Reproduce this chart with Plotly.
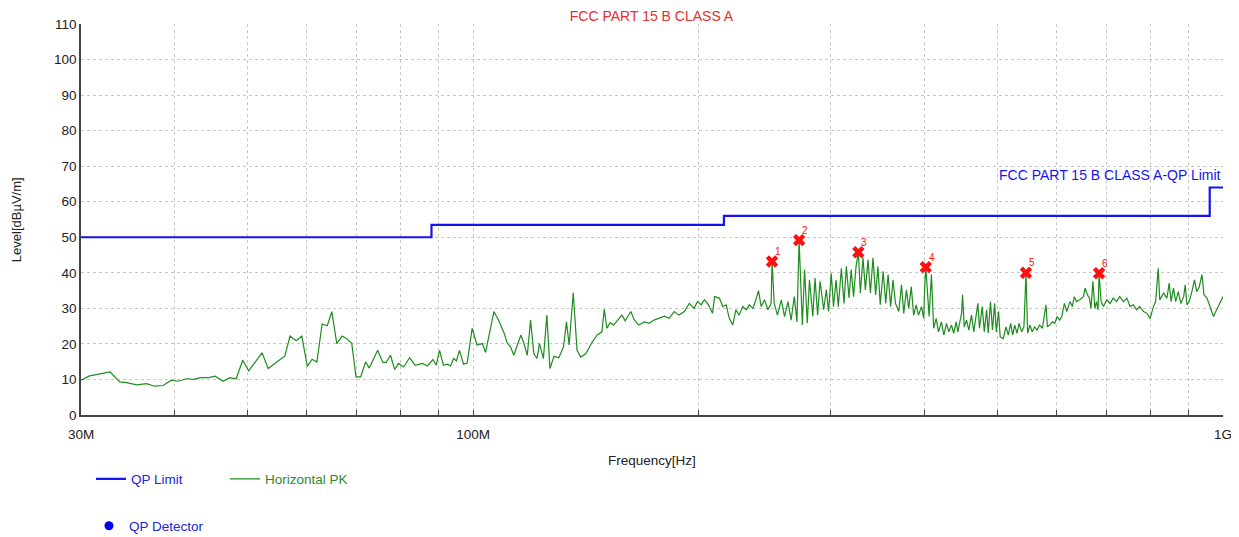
import math
import plotly.graph_objects as go

# ---- data ----
limit_freq_mhz = [30, 88, 216, 960, 1000]
limit_level = [50, 53.5, 56, 64, 64]

pk_freq_mhz = [
    30.0, 30.8, 32.8, 33.8, 34.5, 35.6, 36.7, 37.6, 38.6, 39.6, 40.4, 41.5, 42.4, 43.3, 44.4, 45.3,
    46.4, 47.4, 48.3, 49.3, 50.2, 52.3, 53.3, 54.7, 56.1, 57.0, 58.1, 59.1, 60.1, 61.0, 61.9, 62.9,
    63.9, 64.8, 65.8, 66.9, 67.9, 68.9, 69.8, 70.8, 71.9, 72.7, 74.6, 75.8, 76.6, 77.6, 78.6, 79.5,
    80.8, 82.3, 83.7, 85.6, 86.9, 88.4, 89.3, 90.2, 91.3, 92.4, 93.3, 94.2, 95.0, 95.9, 97.1, 98.2,
    99.7, 101.2, 102.9, 103.9, 106.6, 108.1, 110.0, 111.1, 112.2, 113.3, 115.8, 116.9, 118.1, 119.3,
    120.5, 121.7, 122.6, 124.1, 125.4, 126.6, 128.2, 130.1, 132.0, 133.2, 134.3, 136.0, 137.6, 139.2,
    141.4, 144.2, 146.4, 148.5, 149.6, 150.8, 152.3, 153.9, 155.7, 157.9, 159.5, 162.3, 163.9, 166.3,
    169.2, 171.7, 174.3, 176.9, 179.9, 182.6, 185.4, 188.1, 191.3, 194.2, 197.1, 199.1, 201.4, 203.4,
    205.5, 208.6, 209.9, 213.0, 215.3, 217.5, 219.6, 221.9, 224.1, 226.3, 228.9, 231.3, 233.6, 236.0,
    238.3, 240.2, 242.2, 244.7, 247.2, 249.7, 250.4, 252.1, 254.6, 257.6, 260.2, 262.9, 265.5, 268.1,
    270.3, 272.1, 274.8, 276.7, 279.0, 280.9, 283.8, 285.7, 288.0, 290.2, 293.4, 295.8, 297.9, 300.3,
    302.4, 304.8, 306.9, 309.8, 312.3, 314.6, 317.2, 319.3, 321.6, 324.1, 326.4, 328.4, 331.1, 333.5,
    336.2, 338.7, 341.4, 344.2, 346.6, 349.1, 352.2, 355.0, 357.6, 360.4, 363.0, 365.8, 369.5, 372.6,
    375.2, 378.3, 381.0, 384.0, 386.8, 389.8, 392.6, 396.2, 399.0, 400.2, 401.5, 403.5, 405.6, 408.5,
    411.3, 414.5, 417.5, 421.3, 424.3, 427.9, 430.9, 434.4, 437.4, 440.8, 443.0, 448.1, 449.5, 451.8,
    455.0, 458.2, 462.0, 465.2, 468.8, 471.1, 473.4, 477.5, 480.5, 483.9, 486.3, 489.7, 492.7, 496.0,
    498.5, 502.0, 504.5, 509.4, 513.5, 517.2, 521.0, 524.1, 527.5, 531.3, 534.5, 538.9, 542.7, 546.1,
    548.9, 552.7, 556.7, 561.0, 565.0, 569.3, 574.3, 577.8, 580.7, 583.2, 587.8, 592.1, 596.6, 600.9,
    605.5, 609.5, 614.5, 618.9, 625.1, 629.6, 633.4, 637.6, 643.9, 651.5, 654.7, 659.5, 663.5, 666.7,
    670.8, 674.7, 678.1, 681.4, 683.5, 687.8, 692.8, 699.9, 706.9, 714.1, 721.1, 728.2, 736.8, 744.4,
    751.8, 759.4, 766.9, 774.4, 783.6, 791.6, 799.5, 807.6, 813.1, 819.6, 823.5, 833.3, 841.8, 847.7,
    852.8, 858.9, 864.7, 871.6, 878.3, 886.2, 890.5, 895.2, 901.5, 908.9, 916.2, 922.3, 929.7, 937.5,
    943.3, 952.0, 961.5, 971.3, 980.8, 990.5, 1000.0,
]
pk_level = [
    9.8, 11.0, 12.1, 9.3, 9.1, 8.5, 8.8, 8.1, 8.3, 9.8, 9.5, 10.2, 10.0, 10.5, 10.5, 10.9,
    9.5, 10.5, 10.2, 15.4, 12.4, 17.5, 13.1, 14.9, 16.6, 22.2, 20.9, 22.2, 13.7, 15.7, 14.9, 25.6,
    25.1, 29.1, 20.1, 22.2, 21.4, 20.1, 10.7, 10.7, 14.9, 13.2, 18.2, 14.8, 14.8, 16.8, 12.8, 14.5,
    13.5, 16.1, 14.0, 14.5, 13.8, 15.6, 14.0, 18.2, 14.0, 14.3, 13.8, 15.9, 15.2, 18.2, 14.3, 14.6,
    24.4, 19.7, 20.1, 17.6, 29.1, 26.7, 23.0, 20.1, 19.2, 16.8, 22.5, 20.1, 16.8, 26.7,
    17.3, 15.9, 20.1, 15.9, 28.1, 13.1, 16.5, 16.1, 19.2, 26.2, 19.7, 34.4, 18.2, 16.3,
    17.3, 20.6, 22.5, 23.4, 29.7, 24.4, 26.0, 25.3, 26.7, 28.1, 26.5, 29.1, 26.9, 25.3,
    26.2, 25.8, 26.7, 27.2, 27.8, 27.2, 29.1, 28.1, 29.1, 31.4, 30.0, 31.9, 31.0, 32.4,
    31.4, 28.6, 33.3, 32.9, 30.5, 31.0, 27.2, 25.3, 29.6, 28.1, 30.5, 29.6, 31.0, 30.0,
    32.4, 35.0, 30.5, 32.4, 29.6, 31.4, 43.2, 31.4, 28.1, 32.4, 27.7, 31.9, 26.7, 33.3,
    26.2, 49.2, 25.3, 40.9, 25.8, 38.0, 27.7, 38.5, 28.1, 37.6, 29.6, 35.2, 29.1, 39.9,
    30.5, 38.0, 30.5, 41.3, 31.4, 41.8, 32.9, 40.9, 33.3, 41.8, 45.8, 34.3, 44.2, 35.2,
    43.7, 34.3, 44.2, 33.8, 41.8, 31.0, 40.4, 31.4, 39.5, 30.5, 38.0, 31.4, 29.1, 36.6,
    28.6, 35.2, 30.0, 36.1, 28.1, 31.0, 28.1, 30.5, 27.2, 36.6, 41.6, 34.7, 27.7, 39.5,
    24.4, 27.2, 23.4, 26.2, 22.5, 25.8, 23.4, 25.3, 23.0, 26.2, 23.4, 28.6, 33.8, 24.8,
    26.7, 23.9, 28.1, 23.4, 28.6, 31.4, 24.4, 30.5, 23.4, 29.6, 23.0, 31.9, 23.9, 31.4,
    23.4, 29.1, 22.0, 21.5, 24.8, 22.5, 25.8, 22.5, 25.3, 23.0, 25.8, 23.4, 24.8, 40.0,
    23.0, 25.3, 23.4, 24.8, 23.9, 25.3, 24.4, 28.1, 31.0, 24.8, 25.3, 26.2, 25.8, 27.7,
    26.7, 27.7, 31.4, 29.1, 31.9, 30.5, 33.3, 31.9, 32.4, 33.3, 35.7, 33.8, 32.9, 30.0,
    37.6, 30.0, 31.9, 29.6, 39.9, 31.9, 30.5, 32.4, 31.4, 32.9, 31.9, 33.3, 31.9, 32.9,
    30.5, 31.0, 29.6, 30.5, 29.1, 28.6, 27.2, 30.5, 31.9, 41.3, 32.4, 34.3, 32.9, 37.1,
    31.9, 35.7, 31.9, 34.7, 31.4, 33.3, 36.6, 31.0, 31.9, 34.7, 38.0, 34.7, 36.1, 39.5,
    33.8, 32.9, 30.0, 27.7, 29.6, 31.4, 33.3,
]

peak_freq_mhz = [250.4, 272.1, 326.4, 401.5, 546.1, 683.5]
peak_level = [43.2, 49.2, 45.8, 41.6, 40.0, 39.9]
peak_labels = ["1", "2", "3", "4", "5", "6"]

x_tickvals = [30, 40, 50, 60, 70, 80, 90, 100, 200, 300, 400, 500, 600, 700, 800, 900, 1000]
x_ticktext = ["30M", "", "", "", "", "", "", "100M", "", "", "", "", "", "", "", "", "1G"]

FONT = "Arial, Liberation Sans, sans-serif"
BLUE = "#1414f0"
GREEN = "#1e8c1e"
RED = "#ff1010"

# page body adds an 8px offset; figure is sized to fill the rest of the window
W, H = 1231, 529
L, T, PW, PH = 73, 16, 1142, 391

fig = go.Figure()

fig.add_trace(go.Scatter(
    x=limit_freq_mhz, y=limit_level, mode="lines", line=dict(color=BLUE, width=2.2, shape="hv"),
    name="QP Limit", legend="legend", hoverinfo="skip",
))
fig.add_trace(go.Scatter(
    x=pk_freq_mhz, y=pk_level, mode="lines", line=dict(color=GREEN, width=1.2),
    name="Horizontal PK", legend="legend2",
))
fig.add_trace(go.Scatter(
    x=[None], y=[None], mode="markers", marker=dict(color="#0000ee", size=9, symbol="circle"),
    name="QP Detector", legend="legend3",
))
fig.add_trace(go.Scatter(
    x=peak_freq_mhz, y=peak_level, mode="markers",
    marker=dict(symbol="x", size=11, color=RED), showlegend=False,
))
for f, v, lab in zip(peak_freq_mhz, peak_level, peak_labels):
    fig.add_annotation(x=math.log10(f), y=v, xref="x", yref="y", text=lab, showarrow=False,
                       xshift=6, yshift=10, xanchor="center", yanchor="middle",
                       font=dict(color=RED, size=10, family=FONT))

fig.add_annotation(
    text="FCC PART 15 B CLASS A-QP Limit", xref="paper", yref="y", x=1.0, y=67.5,
    xanchor="right", yanchor="middle", showarrow=False,
    font=dict(color=BLUE, size=14, family=FONT),
)
# axis titles
fig.add_annotation(
    text="Level[dBµV/m]", xref="paper", yref="paper", x=(8.7 - L) / PW, y=0.5,
    xanchor="center", yanchor="middle", textangle=-90, showarrow=False,
    font=dict(color="#222222", size=13, family=FONT),
)
fig.add_annotation(
    text="Frequency[Hz]", xref="paper", yref="paper", x=0.5, y=(T + PH - 452) / PH,
    xanchor="center", yanchor="middle", showarrow=False,
    font=dict(color="#222222", size=13.5, family=FONT),
)

grid = dict(showgrid=True, gridcolor="#c8c8c8", griddash="dot", gridwidth=1)

fig.update_layout(
    width=W, height=H,
    margin=dict(l=L, r=W - L - PW, t=T, b=H - T - PH, autoexpand=False),
    paper_bgcolor="white", plot_bgcolor="white",
    font=dict(family=FONT, color="#333333", size=13),
    title=dict(text="FCC PART 15 B CLASS A", font=dict(color="#e03030", size=14, family=FONT),
               x=643.5 / W, xanchor="center", xref="container",
               y=1 - 8 / H, yanchor="middle", yref="container"),
    xaxis=dict(type="log", range=[1.4771213, 3.0], tickvals=x_tickvals, ticktext=x_ticktext,
               ticks="inside", ticklen=5, tickcolor="#444444", showline=True, linecolor="#444444",
               linewidth=1.5, tickfont=dict(size=13.5, color="#222222"), ticklabelstandoff=6,
               zeroline=False, **grid),
    yaxis=dict(range=[0, 110], dtick=10, ticks="", showline=True, linecolor="#444444", linewidth=1.5,
               tickfont=dict(size=13.5, color="#222222"),
               zeroline=False, **grid),
    legend=dict(x=83 / W, y=1 - 471 / H, xref="container", yref="container",
                xanchor="left", yanchor="middle", font=dict(color="#2323d8", size=13.5),
                bgcolor="rgba(0,0,0,0)"),
    legend2=dict(x=217 / W, y=1 - 471 / H, xref="container", yref="container",
                 xanchor="left", yanchor="middle", font=dict(color="#2f8a2f", size=13.5),
                 bgcolor="rgba(0,0,0,0)"),
    legend3=dict(x=81 / W, y=1 - 518 / H, xref="container", yref="container",
                 xanchor="left", yanchor="middle", font=dict(color="#2323d8", size=13.5),
                 bgcolor="rgba(0,0,0,0)"),
    hovermode=False,
)

fig.write_html("out.html")
